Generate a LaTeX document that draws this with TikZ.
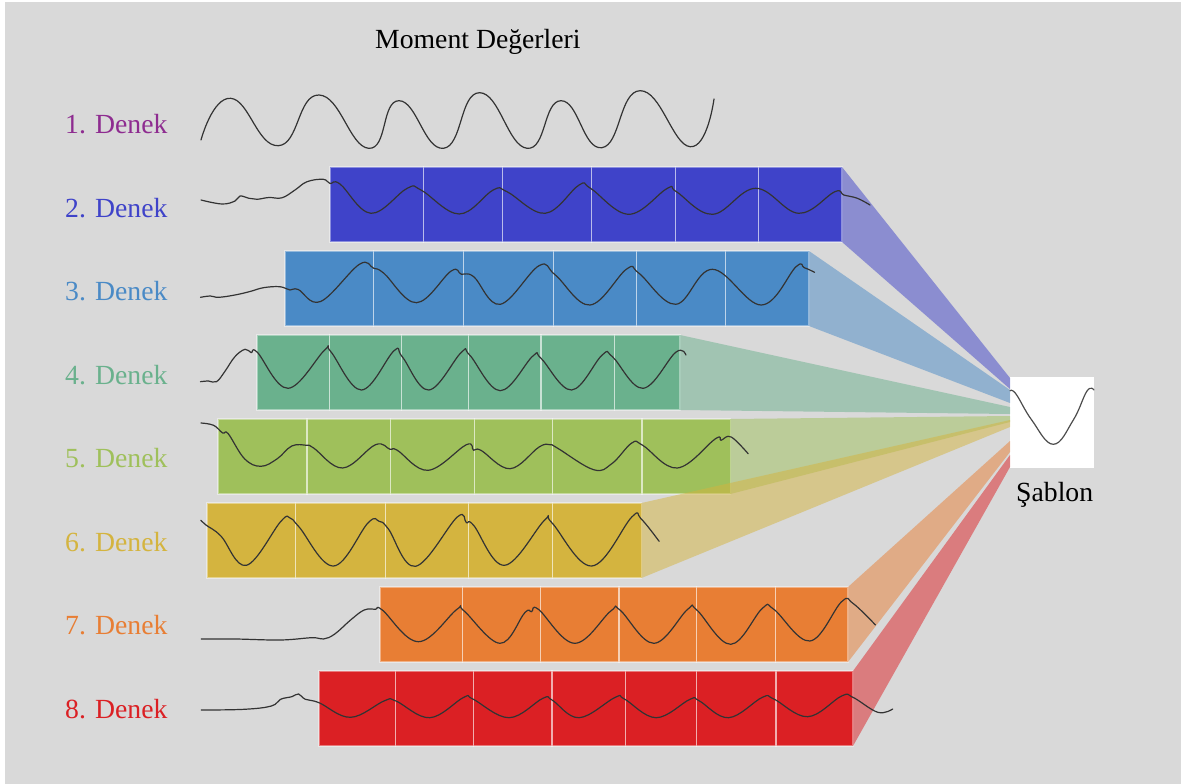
\documentclass[tikz,border=0pt]{standalone}
\usepackage{fontspec}
\setmainfont{Liberation Serif}
\definecolor{bg}{HTML}{D9D9D9}
\definecolor{c1}{HTML}{8E2C90}
\definecolor{c2}{HTML}{3F43C9}
\definecolor{c3}{HTML}{4A8AC6}
\definecolor{c4}{HTML}{6AB18D}
\definecolor{c5}{HTML}{9FC05B}
\definecolor{c6}{HTML}{D4B43F}
\definecolor{c7}{HTML}{E87E34}
\definecolor{c8}{HTML}{DB2024}
\newcommand{\cellrow}[3]{%
  \foreach \a/\b in {#3} {\fill[#1] (\a,#2) rectangle (\b,#2+75);}
  \foreach \a/\b in {#3} {\draw[cellline] (\a,#2) rectangle (\b,#2+75);}
}
\begin{document}
\begin{tikzpicture}[x=1pt,y=-1pt,
  lbl/.style={anchor=base west, inner sep=0pt, font=\fontsize{27.7}{30}\selectfont},
  cellline/.style={draw=white, draw opacity=0.4, line width=1.1pt},
  fan/.style={fill opacity=0.5},
  wave/.style={draw=black!80, line width=1.2pt, line join=round, line cap=round}]
\useasboundingbox (0,0) rectangle (1181,784);
\fill[white] (0,0) rectangle (1181,784);
\fill[bg] (5,2) rectangle (1181,784);

% title and labels
\node[lbl] (title) at (375,49) {Moment Değerleri};
\node[lbl, text=c1] (l1) at (65,133) {1. Denek};
\node[lbl, text=c2] (l2) at (65,217) {2. Denek};
\node[lbl, text=c3] (l3) at (65,300) {3. Denek};
\node[lbl, text=c4] (l4) at (65,384) {4. Denek};
\node[lbl, text=c5] (l5) at (65,467) {5. Denek};
\node[lbl, text=c6] (l6) at (65,551) {6. Denek};
\node[lbl, text=c7] (l7) at (65,634) {7. Denek};
\node[lbl, text=c8] (l8) at (65,718) {8. Denek};

% boxes
\cellrow{c2}{167}{330/423.9, 423.9/502.2, 502.2/591.4, 591.4/675.1, 675.1/758.8, 758.8/842}
\cellrow{c3}{251}{285/373.7, 373.7/463.5, 463.5/553.3, 553.3/636.1, 636.1/725.9, 725.9/809}
\cellrow{c4}{335}{257/329.6, 329.6/401.4, 401.4/468.8, 468.8/541, 541/614.5, 614.5/680}
\cellrow{c5}{419}{218/307, 307/390.7, 390.7/474.4, 474.4/552.9, 552.9/642, 642/730.5}
\cellrow{c6}{503}{207/295.5, 295.5/385.6, 385.6/468.9, 468.9/552.9, 552.9/641.5}
\cellrow{c7}{587}{380/462.9, 462.9/540.7, 540.7/619, 619/696.8, 696.8/775.1, 775.1/848}
\cellrow{c8}{671}{319/395.9, 395.9/473.7, 473.7/552, 552/625.3, 625.3/696.8, 696.8/776, 776/853}

% template
\node[fill=white, inner sep=0pt, minimum width=84pt, minimum height=91pt, anchor=north west] (sab) at (1010,377) {};
\node[lbl] (sablbl) at (1016,501) {Şablon};

% fan corner coordinates
\coordinate (r2t) at (842,167);   \coordinate (r2b) at (842,242);
\coordinate (r3t) at (809,251);   \coordinate (r3b) at (809,326);
\coordinate (r4t) at (680,335);   \coordinate (r4b) at (680,410);
\coordinate (r5t) at (730.5,419); \coordinate (r5b) at (730.5,494);
\coordinate (r6t) at (641.5,503); \coordinate (r6b) at (641.5,578);
\coordinate (r7t) at (848,587);   \coordinate (r7b) at (848,662);
\coordinate (r8t) at (853,671);   \coordinate (r8b) at (853,746);
\coordinate (s2t) at (1010,378); \coordinate (s2b) at (1010,389);
\coordinate (s3t) at (1010,390); \coordinate (s3b) at (1010,403);
\coordinate (s4t) at (1010,407); \coordinate (s4b) at (1010,414);
\coordinate (s5t) at (1010,416); \coordinate (s5b) at (1010,422);
\coordinate (s6t) at (1010,420); \coordinate (s6b) at (1010,427);
\coordinate (s7t) at (1010,441); \coordinate (s7b) at (1010,452);
\coordinate (s8t) at (1010,455); \coordinate (s8b) at (1010,467);

\fill[c2, fan] (r2t) -- (s2t) -- (s2b) -- (r2b) -- cycle;
\fill[c3, fan] (r3t) -- (s3t) -- (s3b) -- (r3b) -- cycle;
\fill[c4, fan] (r4t) -- (s4t) -- (s4b) -- (r4b) -- cycle;
\fill[c5, fan] (r5t) -- (s5t) -- (s5b) -- (r5b) -- cycle;
\fill[c6, fan] (r6t) -- (s6t) -- (s6b) -- (r6b) -- cycle;
\fill[c7, fan] (r7t) -- (s7t) -- (s7b) -- (r7b) -- cycle;
\fill[c8, fan] (r8t) -- (s8t) -- (s8b) -- (r8b) -- cycle;

% waves
\draw[wave] plot[smooth, tension=0.85] coordinates {(201,140) (230.7,98.3) (278.2,145.7) (319,95) (368.7,148.3) (399,100.7) (443.4,148.3) (479.6,92.7) (527.1,148.3) (561,100.7) (601.8,147.7) (640.2,90.7) (690,146.7) (714,99)};

\draw[wave] plot[smooth, tension=0.65] coordinates {(201,200) (222,204) (235,201) (240,196) (249,198.3) (257,199.3) (269,197.5) (282,197.8) (295,190) (307,181.7) (323.3,179.3) (330,183.5) (340,184) (371,213.3) (407.2,188.3) (421,190) (459.2,214) (493.2,190) (507,191.7) (545.2,213.3) (579.1,185) (590.5,188.3) (628.9,214.3) (667.4,188.3) (676.4,191.7) (712.6,214.3) (755.6,188.3) (798.6,213.3) (834.8,191.7) (843.8,195) (857.4,198.3) (870,205)};

\draw[wave] plot[smooth, tension=0.65] coordinates {(200.5,297.3) (210.4,296) (218.6,297.3) (234.9,295) (250,291.5) (263.5,287.7) (279.8,286.7) (290,290) (298.2,289.5) (320.6,301.5) (359.4,264.3) (373.7,268.3) (383.9,273.3) (416.5,302.7) (451.2,271) (461.4,274.3) (473.7,276.7) (500.2,304.3) (539,265.7) (555.3,275) (590,305) (626.7,269) (639,273.3) (675.7,304.3) (712.4,269.3) (761.4,305) (796.1,266.7) (804.3,267.7) (814.5,272.3)};

\draw[wave] plot[smooth, tension=0.65] coordinates {(200.5,381.7) (208.4,381) (216.5,381.7) (224.7,371.7) (234.9,356.7) (245.1,349.3) (251.2,352.7) (257.3,352.3) (288,388.3) (324.7,350) (330.8,351.7) (361.4,390) (394.1,350.7) (402.2,356.7) (428.8,390) (461.4,352.3) (469.6,355) (500.2,390.7) (532.9,356) (541,358.3) (571.6,390) (602.2,355) (612.4,356.7) (643,388.3) (675.7,352.3) (685.9,355)};

\draw[wave] plot[smooth, tension=0.65] coordinates {(200.9,423) (213.6,425.3) (222.7,433) (228.2,433.7) (244.5,458.7) (260.9,466.3) (277.3,458.7) (291.8,446) (306.4,445.3) (313.6,448) (342.7,468) (375.5,444.7) (390,449.3) (397.3,450.3) (428.2,470.3) (466.4,444.7) (473.6,450.3) (480.9,450.3) (510,468.7) (539.1,447) (550,444.7) (557.3,448) (593.6,469.7) (611.8,463.7) (631.8,443) (642.7,445.3) (677.3,468) (715.5,438.7) (720.9,440.3) (728.2,436.3) (735.5,440.3) (748.2,453.7)};

\draw[wave] plot[smooth, tension=0.65] coordinates {(200.9,520.3) (206.4,525.3) (220.9,536) (246.4,565.3) (280.9,521.3) (290,518) (299.1,527) (333.6,566) (368.2,522.7) (379.1,521.3) (388.2,528.7) (415.5,566.3) (457.3,517) (466.4,522.7) (473.6,525.3) (504.5,565.3) (544.5,520.3) (551.8,522.7) (591.8,566) (631.8,517) (640.9,518.7) (659.1,541.3)};

\draw[wave] plot[smooth, tension=0.65] coordinates {(201.3,639) (235.2,639) (280.5,640) (312.2,637.7) (323.5,639) (334.8,634) (350.6,620) (364.2,610) (375.5,609.3) (382.3,610) (418.5,641.7) (457,609.3) (463.8,610.7) (500,643.3) (524.8,612.7) (531.6,611.7) (538.4,609.3) (574.6,643.3) (610.8,611) (619.9,610) (653.8,643.3) (687.7,609.3) (696.8,610) (730.7,644.3) (762.4,608.3) (773.8,609.3) (809.9,641) (841.6,601.7) (852.9,603.3) (875.5,625)};

\draw[wave] plot[smooth, tension=0.65] coordinates {(201.3,710) (244.3,709.3) (271.4,706) (280.5,699.3) (291.8,696.7) (298.6,694) (305.4,699.3) (319,702.7) (350.6,717.3) (384.6,700.7) (395.9,701) (429.8,717.7) (463.8,697.3) (472.8,699) (509,717.7) (542.9,698.3) (552,700) (579.1,717.7) (615.3,697.3) (624.4,699) (656.1,717.7) (690,699.3) (699,700.7) (728.5,717.7) (762.4,697.3) (773.8,699) (807.7,716.7) (841.6,696) (852.9,697.3) (877.8,712.3) (892.7,709)};

\draw[wave, draw=black!70] plot[smooth, tension=0.7] coordinates {(1010,390.7) (1016,394) (1031.7,420) (1053.3,444.3) (1073.3,420) (1087,391) (1094,390)};
\end{tikzpicture}
\end{document}
